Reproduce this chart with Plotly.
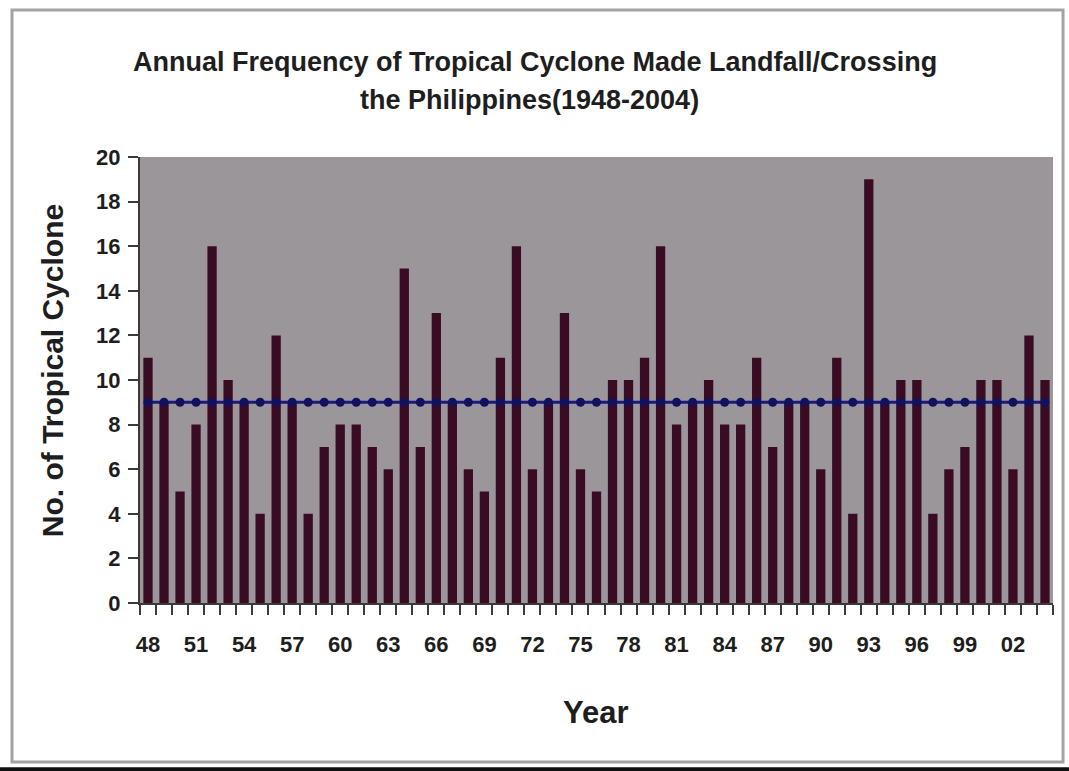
import plotly.graph_objects as go

# Annual number of tropical cyclones making landfall / crossing the Philippines
years = list(range(1948, 2005))
cyclones = [
    11, 9, 5, 8, 16, 10, 9, 4, 12, 9,
    4, 7, 8, 8, 7, 6, 15, 7, 13, 9,
    6, 5, 11, 16, 6, 9, 13, 6, 5, 10,
    10, 11, 16, 8, 9, 10, 8, 8, 11, 7,
    9, 9, 6, 11, 4, 19, 9, 10, 10, 4,
    6, 7, 10, 10, 6, 12, 10,
]
average = 9.0

label_years = list(range(1948, 2003, 3))
label_text = [f"{y % 100:02d}" for y in label_years]

y_ticks = list(range(0, 21, 2))

FONT = "Liberation Sans, Arial, sans-serif"
TEXT = "#1e1e1e"

fig = go.Figure()

fig.add_trace(go.Bar(
    x=years,
    y=cyclones,
    marker=dict(color="#3a0c24", line=dict(width=0)),
    width=0.58,
    showlegend=False,
))

fig.add_trace(go.Scatter(
    x=years,
    y=[average] * len(years),
    mode="lines+markers",
    line=dict(color="#1b1a78", width=3),
    marker=dict(color="#12115e", size=9, symbol="circle"),
    showlegend=False,
))

fig.update_layout(
    width=1069,
    height=771,
    margin=dict(l=140, r=16, t=157, b=168),
    paper_bgcolor="white",
    plot_bgcolor="#9b969a",
    font=dict(family=FONT, color=TEXT),
    showlegend=False,
)

fig.update_xaxes(
    range=[1947.5, 2004.5],
    tickmode="array",
    tickvals=label_years,
    ticktext=label_text,
    ticks="",
    tickfont=dict(size=22, family=FONT, color=TEXT, weight="bold"),
    ticklabelstandoff=21,
    minor=dict(ticks="outside", tick0=1947.5, dtick=1, ticklen=10,
               tickwidth=2, tickcolor="#3a3a3a", showgrid=False),
    showgrid=False,
    showline=True,
    linecolor="#3a3a3a",
    linewidth=2,
    zeroline=False,
)

fig.update_yaxes(
    range=[0, 20],
    tickmode="array",
    tickvals=y_ticks,
    ticks="outside",
    ticklen=10,
    tickwidth=2,
    tickcolor="#3a3a3a",
    tickfont=dict(size=22, family=FONT, color=TEXT, weight="bold"),
    ticklabelstandoff=3,
    showgrid=False,
    showline=True,
    linecolor="#3a3a3a",
    linewidth=2,
    zeroline=False,
)

# Titles
fig.add_annotation(
    text="Annual Frequency of Tropical Cyclone Made Landfall/Crossing",
    xref="paper", yref="paper", x=0.4326, y=1.213,
    showarrow=False, xanchor="center", yanchor="middle",
    font=dict(size=27, family=FONT, color=TEXT, weight="bold"),
)
fig.add_annotation(
    text="the Philippines(1948-2004)",
    xref="paper", yref="paper", x=0.4266, y=1.128,
    showarrow=False, xanchor="center", yanchor="middle",
    font=dict(size=27, family=FONT, color=TEXT, weight="bold"),
)
fig.add_annotation(
    text="No. of Tropical Cyclone",
    xref="paper", yref="paper", x=-0.0964, y=0.522,
    textangle=-90, showarrow=False, xanchor="center", yanchor="middle",
    font=dict(size=30, family=FONT, color=TEXT, weight="bold"),
)
fig.add_annotation(
    text="Year",
    xref="paper", yref="paper", x=0.4995, y=-0.2444,
    showarrow=False, xanchor="center", yanchor="middle",
    font=dict(size=31, family=FONT, color=TEXT, weight="bold"),
)

# Outer frame around the chart
fig.add_shape(
    type="rect", xref="paper", yref="paper",
    x0=-0.1402, x1=1.011, y0=-0.3565, y1=1.3296,
    line=dict(color="#a3a3a3", width=3), fillcolor="rgba(0,0,0,0)",
    layer="below",
)
fig.add_shape(
    type="line", xref="paper", yref="paper",
    x0=-0.16, x1=1.02, y0=-0.3725, y1=-0.3725,
    line=dict(color="#111111", width=4),
)

fig.write_html("out.html")
